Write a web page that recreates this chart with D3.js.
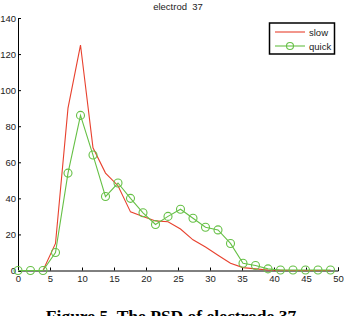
<!DOCTYPE html>
<html>
<head>
<meta charset="utf-8">
<script src="https://cdn.jsdelivr.net/npm/d3@7"></script>
<style>
body { margin: 0; background: #fff; }
svg { display: block; }
.axis text { font-family: "Liberation Sans", Arial, sans-serif; font-size: 9.5px; fill: #222; }
.axis path, .axis line { stroke: #000; }
</style>
</head>
<body>
<div id="chart"></div>
<script>
var svgWidth = 344;
var svgHeight = 316;

// frequency bins
var freqs = d3.range(26).map(function(i) { return i * 1.953125; });
var slow = [0, 0, 0, 15, 90, 125, 68, 54, 47, 32.5, 30, 27.5, 27, 23, 17, 13, 8.5, 4, 1.6, 0.9, 0.3, 0.1, 0, 0, 0, 0];
var quick = [0, 0, 0, 10, 54, 86, 64, 41, 48.5, 40, 32, 25.5, 30, 34, 29, 24, 22.5, 15, 4, 2.8, 0.9, 0.3, 0.3, 0.3, 0.3, 0.3];
var xTicks = [0, 5, 10, 15, 20, 25, 30, 35, 40, 45, 50];
var yTicks = [0, 20, 40, 60, 80, 100, 120, 140];
var seriesNames = ["slow", "quick"];

var plotLeft = 18, plotRight = 338, plotTop = 18, plotBottom = 270.5;

var svg = d3.select("#chart")
            .append("svg")
            .attr("width", svgWidth)
            .attr("height", svgHeight);

var x = d3.scaleLinear().domain([0, 50]).range([plotLeft, plotRight]);
var y = d3.scaleLinear().domain([0, 140]).range([plotBottom, plotTop]);

svg.append("g")
    .attr("class", "axis")
    .attr("transform", "translate(0," + plotBottom + ")")
    .call(d3.axisBottom(x).tickValues(xTicks).tickSizeInner(-3).tickSizeOuter(-3).tickPadding(5));

svg.append("g")
    .attr("class", "axis")
    .attr("transform", "translate(" + plotLeft + ",0)")
    .call(d3.axisLeft(y).tickValues(yTicks).tickSizeInner(-3).tickSizeOuter(-3).tickPadding(2));

var line = d3.line()
    .x(function(d, i) { return x(freqs[i]); })
    .y(function(d) { return y(d); });

svg.append("path")
    .datum(slow)
    .attr("fill", "none")
    .attr("stroke", "#e8412e")
    .attr("stroke-width", 1.1)
    .attr("d", line);

svg.append("path")
    .datum(quick)
    .attr("fill", "none")
    .attr("stroke", "#66c046")
    .attr("stroke-width", 1.1)
    .attr("d", line);

svg.selectAll("circle.quick")
    .data(quick)
    .enter()
    .append("circle")
    .attr("class", "quick")
    .attr("cx", function(d, i) { return x(freqs[i]); })
    .attr("cy", function(d) { return y(d); })
    .attr("r", 4)
    .attr("fill", "none")
    .attr("stroke", "#66c046")
    .attr("stroke-width", 1.1);

// title
svg.append("text")
    .attr("x", (plotLeft + plotRight) / 2)
    .attr("y", 10)
    .attr("text-anchor", "middle")
    .attr("font-family", "Liberation Sans, Arial, sans-serif")
    .attr("font-size", "9.5px")
    .attr("fill", "#222")
    .style("white-space", "pre")
    .text("electrod  37");

// legend
var legend = svg.append("g");
legend.append("rect")
    .attr("x", 269.5)
    .attr("y", 23)
    .attr("width", 65)
    .attr("height", 31)
    .attr("fill", "#fff")
    .attr("stroke", "#000")
    .attr("stroke-width", 1.5);

var colors = ["#e8412e", "#66c046"];
seriesNames.forEach(function(name, i) {
  var ly = 32 + i * 14;
  legend.append("line")
      .attr("x1", 275).attr("x2", 305)
      .attr("y1", ly).attr("y2", ly)
      .attr("stroke", colors[i])
      .attr("stroke-width", 1.1);
  if (name === "quick") {
    legend.append("circle")
        .attr("cx", 290).attr("cy", ly).attr("r", 3.5)
        .attr("fill", "none")
        .attr("stroke", colors[i])
        .attr("stroke-width", 1.1);
  }
  legend.append("text")
      .attr("x", 309)
      .attr("y", ly + 3.5)
      .attr("font-family", "Liberation Sans, Arial, sans-serif")
      .attr("font-size", "9.5px")
      .attr("fill", "#222")
      .text(name);
});

// caption
svg.append("text")
    .attr("x", 171)
    .attr("y", 321.5)
    .attr("text-anchor", "middle")
    .attr("font-family", "Liberation Serif, Times New Roman, serif")
    .attr("font-weight", "bold")
    .attr("font-size", "17.5px")
    .attr("fill", "#000")
    .text("Figure 5. The PSD of electrode 37");
</script>
</body>
</html>
